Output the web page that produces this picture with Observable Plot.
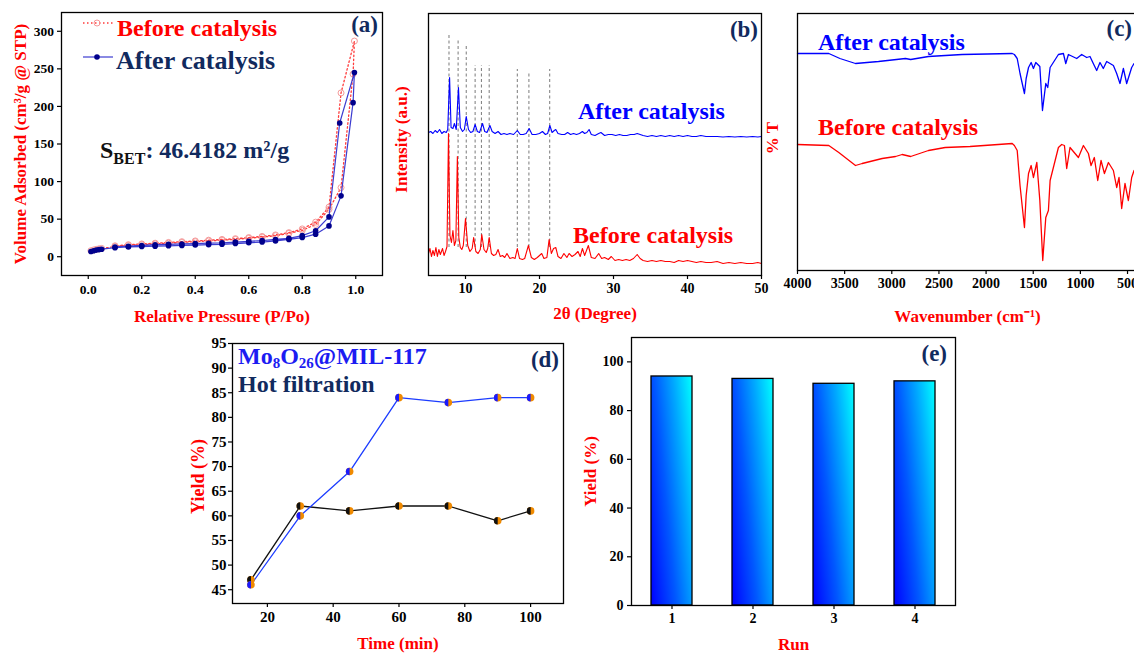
<!DOCTYPE html>
<html><head><meta charset="utf-8">
<script src="https://cdn.jsdelivr.net/npm/d3@7"></script>
<script src="https://cdn.jsdelivr.net/npm/@observablehq/plot@0.6"></script>
<style>
html,body{margin:0;padding:0;background:#fff;overflow:hidden;}
#fig{position:relative;width:1134px;height:654px;overflow:hidden;background:#fff;}
</style></head><body>
<svg width="0" height="0" style="position:absolute">
  <defs>
    <linearGradient id="barGrad" x1="0" y1="1" x2="1.19" y2="0.36">
      <stop offset="0" stop-color="#0000ff"/>
      <stop offset="0.4" stop-color="#0058ff"/>
      <stop offset="0.7" stop-color="#00a8ff"/>
      <stop offset="1" stop-color="#00ffff"/>
    </linearGradient>
  </defs>
</svg>
<div id="fig"></div>
<script>
// ---------- (a) N2 isotherm ----------
const aAfterP  = [0.01,0.02,0.03,0.04,0.05,0.1,0.15,0.2,0.25,0.3,0.35,0.4,0.45,0.5,0.55,0.6,0.65,0.7,0.75,0.8,0.85,0.9,0.945,0.99,0.995,
                  0.94,0.9,0.85,0.8,0.75,0.7,0.65,0.6,0.55,0.5,0.45,0.4,0.35,0.3,0.25,0.2,0.15,0.1];
const aAfterV  = [7,8,8.8,9.5,10,12,13,13.5,14,14.5,15,15.5,16,16.5,17.5,18.5,19.5,21,23,25.5,30,41,81,205,245,
                  178,53,34.5,28,24.5,23,21.5,20.5,19.5,18.5,18,17.5,17,16.5,16,15,14,13];
const aBeforeP = [0.01,0.02,0.03,0.04,0.05,0.1,0.15,0.2,0.25,0.3,0.35,0.4,0.45,0.5,0.55,0.6,0.65,0.7,0.75,0.8,0.85,0.9,0.945,0.99,0.995,
                  0.945,0.9,0.85,0.8,0.75,0.7,0.65,0.6,0.55,0.5,0.45,0.4,0.35,0.3,0.25,0.2,0.15,0.1];
const aBeforeV = [8,9,9.8,10.5,11,13.5,15,16,17,18,19,20,21,22,23,24.5,26,28,31,35,43,63,92,243,287,
                  218,66,46,37,32,29,27,25.5,24,23,22,21,20,19,18,17,16,14.5];
const aXTicks = [0,0.2,0.4,0.6,0.8,1.0];
const aYTicks = [0,50,100,150,200,250,300];

// ---------- (b) XRD (arbitrary intensity units) ----------
const bAfterT = [5.0,5.3,5.6,5.9,6.2,6.5,6.8,7.1,7.4,7.6,
  7.85,8.05,8.3,8.5,8.75,9.05,9.3,9.6,9.85,10.1,
  10.4,10.7,11.0,11.3,11.6,11.9,12.3,12.6,12.9,13.3,
  13.6,14.0,14.4,14.8,15.2,15.6,16.0,16.5,17.0,17.4,
  17.8,18.2,18.6,19.0,19.5,20.0,20.4,20.8,21.1,21.4,
  21.7,22.0,22.2,22.5,23.0,23.4,23.8,24.2,24.6,25.0,
  25.4,25.8,26.1,26.4,26.7,27.0,27.5,28.0,28.3,28.8,
  29.3,29.8,30.3,30.8,31.3,31.8,32.3,32.8,33.2,33.6,
  34.0,34.6,35.2,35.8,36.4,37.0,37.6,38.2,38.8,39.4,
  40.0,40.6,41.2,41.8,42.5,43.2,44.0,44.8,45.6,46.4,
  47.2,48.0,48.8,49.5,50.0];
const bAfterI = [143,144,142,145,143,146,142,144,143,146,
  198,148,147,152,146,188,148,144,146,159,
  146,143,144,151,144,143,152,144,143,150,
  144,142,144,141,142,141,142,141,145,141,
  141,142,147,141,141,142,144,141,142,150,
  143,145,146,142,141,141,143,141,142,141,
  142,144,142,143,146,141,140,142,143,140,
  141,141,140,141,140,140,141,141,142,141,
  140,139,140,139,140,139,140,139,140,139,
  140,139,139,140,139,139,139,138.5,139,138.5,
  139,138.5,139,138.5,139];
const bBeforeT = [5.0,5.2,5.4,5.6,5.8,6.0,6.2,6.4,6.6,6.9,
  7.1,7.3,7.5,7.7,7.9,8.1,8.3,8.5,8.7,8.9,
  9.1,9.3,9.5,9.7,10.0,10.3,10.6,10.9,11.1,11.4,
  11.7,12.0,12.2,12.5,12.8,13.0,13.2,13.5,13.8,14.1,
  14.4,14.7,15.0,15.3,15.6,16.0,16.4,16.7,17.0,17.3,
  17.7,18.0,18.5,18.9,19.3,19.7,20.0,20.3,20.6,21.0,
  21.3,21.6,21.9,22.2,22.5,22.9,23.3,23.7,24.0,24.4,
  24.8,25.2,25.5,25.8,26.1,26.6,27.0,27.5,28.0,28.4,
  28.8,29.3,29.7,30.2,30.7,31.2,31.7,32.2,32.7,33.2,
  33.6,34.0,34.6,35.2,35.8,36.4,37.0,37.6,38.2,38.8,
  39.4,40.0,40.6,41.2,41.8,42.5,43.2,44.0,44.8,45.6,
  46.4,47.2,48.0,48.8,49.5,50.0];
const bBeforeI = [22,27,19,25,20,28,19,26,21,27,
  20,24,29,142,40,33,45,30,35,119,
  38,28,26,30,57,30,24,27,38,24,
  22,26,41,26,23,27,38,22,20,21,
  26,19,20,18,22,17,18,17,27,17,
  16,17,30,18,16,18,20,22,17,18,
  36,22,27,28,19,17,22,18,22,19,
  21,24,19,27,20,30,18,17,22,17,
  18,16,19,15,16,15,16,15,17,21,
  17,15,14,15,14,15,14,14,13,15,
  14,15,14,13,14,13,13,14,12,13,
  12,13,12,12,13,12];
const bRefT   = [7.77,9.0,10.1,11.3,12.15,13.2,17.0,18.57,21.38];
const bRefTop = [242,237,229,210,210,210,206,202,206];
const bRefBot = [28,28,28,28,28,28,28,28,28];
const bXTicks = [10,20,30,40,50];

// ---------- (c) FT-IR (transmittance, arbitrary units) ----------
const cAfterW = [4000,3668,3550,3385,3141,2855,2800,2611,2254,1723,
  1700,1670,1640,1593,1575,1550,1522,1498,1473,1430,
  1402,1367,1346,1321,1233,1180,1155,1127,1039,986,
  933,898,863,827,792,757,721,650,615,580,
  544,509,456,431,400];
const cAfterT = [217,217,212,207,209,212,211,214,216,217,
  216,212,197,177,192,203,208,202,208,204,
  160,187,183,203,216,217,207,216,212,216,
  213,214,207,200,208,202,209,205,197,187,
  202,187,203,207,208];
const cBeforeW = [4000,3668,3562,3385,3314,3102,2960,2890,2800,2611,
  2434,2170,1723,1700,1670,1640,1593,1575,1550,1522,
  1498,1462,1430,1399,1367,1339,1321,1233,1198,1169,
  1145,1110,1021,968,915,887,852,816,781,745,
  703,650,615,590,562,527,491,456,431,400];
const cBeforeT = [126,125,118,105,107,112,114,116,114,120,
  123,124,127,125,120,85,43,75,97,105,
  93,108,70,10,53,60,90,123,126,125,
  102,123,113,125,117,105,113,90,110,97,
  108,100,83,93,62,87,70,93,100,102];
const cXTicks = [4000,3500,3000,2500,2000,1500,1000,500];

// ---------- (d) hot filtration ----------
const dTime   = [15,30,45,60,75,90,100];
const dNormal = [46,60,69,84,83,84,84];
const dHot    = [47,62,61,62,62,59,61];
const dXTicks = [20,40,60,80,100];
const dYTicks = [45,50,55,60,65,70,75,80,85,90,95];

// ---------- (e) recycling ----------
const eRun   = ["1","2","3","4"];
const eYield = [94,93,91,92];
const eYTicks = [0,20,40,60,80,100];

// ---------- helpers ----------
const RED = "#ff0000", NAVY = "#112a5e", BLUE = "#0000ff";
const FONT = '"Liberation Serif", "Times New Roman", serif';
const fig = document.getElementById("fig");
const zip2 = (xs, ys, kx, ky) => xs.map((x, i) => ({[kx]: x, [ky]: ys[i]}));
function mount(svg, left, top) {
  svg.style.position = "absolute"; svg.style.left = left + "px"; svg.style.top = top + "px";
  fig.appendChild(svg); return svg;
}
function baseStyle(size) {
  return {background: "transparent", overflow: "visible", fontFamily: FONT, fontWeight: "bold", fontSize: size + "px", color: "#000"};
}
function yTitle(text, dx, dy = 0, size = 17) {
  return Plot.text([text], {text: d => d, frameAnchor: "left", dx, dy, rotate: -90, textAnchor: "middle", lineAnchor: "middle", fill: RED, fontSize: size});
}
function xTitle(text, dy, dx = 0, anchor = "bottom", size = 17) {
  return Plot.text([text], {text: d => d, frameAnchor: anchor, dx, dy, textAnchor: "middle", lineAnchor: "middle", fill: RED, fontSize: size});
}
function label(svg, x, y, parts, {size = 24, fill = "#000", anchor = "start"} = {}) {
  const t = d3.select(svg).append("text").attr("x", x).attr("y", y)
    .attr("font-family", FONT).attr("font-weight", "bold").attr("font-size", size)
    .attr("fill", fill).attr("text-anchor", anchor);
  (typeof parts === "string" ? [{t: parts}] : parts).forEach(p => {
    const s = t.append("tspan").text(p.t);
    if (p.size) s.attr("font-size", p.size);
    if (p.fill) s.attr("fill", p.fill);
    if (p.dy) s.attr("dy", p.dy);
  });
  return t;
}

// ---------- panel (a) ----------
const aAfter = zip2(aAfterP, aAfterV, "p", "v");
const aBefore = zip2(aBeforeP, aBeforeV, "p", "v");
const svgA = mount(Plot.plot({
  width: 395, height: 330, marginLeft: 61, marginRight: 13, marginTop: 12, marginBottom: 55,
  style: baseStyle(13.5),
  x: {domain: [-0.1, 1.1]}, y: {domain: [-25, 325]},
  marks: [
    Plot.line(aBefore, {x: "p", y: "v", stroke: "#ff3b3b", strokeWidth: 1.3, strokeDasharray: "1.5,2.5"}),
    Plot.dot(aBefore, {x: "p", y: "v", r: 3, stroke: "#f59a9a", strokeWidth: 1, fill: "none"}),
    Plot.line(aAfter, {x: "p", y: "v", stroke: "#3c3cd0", strokeWidth: 1.2}),
    Plot.dot(aAfter, {x: "p", y: "v", r: 2.8, fill: "#00008c"}),
    Plot.axisX({ticks: aXTicks, tickFormat: d3.format(".1f"), tickSize: 4, tickPadding: 5, label: null, strokeWidth: 1.2}),
    Plot.axisY({ticks: aYTicks, tickSize: 4, tickPadding: 3.5, label: null, strokeWidth: 1.2}),
    Plot.frame({stroke: "#000", strokeWidth: 1.3}),
    yTitle("Volume Adsorbed (cm³/g @ STP)", -41),
    xTitle("Relative Pressure (P/Po)", 41)
  ]
}), 0, 0);
{
  const g = d3.select(svgA);
  g.append("line").attr("x1", 83).attr("x2", 113).attr("y1", 23).attr("y2", 23)
    .attr("stroke", "#ff3b3b").attr("stroke-width", 1.3).attr("stroke-dasharray", "1.5,2.5");
  g.append("circle").attr("cx", 97).attr("cy", 23).attr("r", 3).attr("fill", "none").attr("stroke", "#f59a9a");
  g.append("line").attr("x1", 83).attr("x2", 113).attr("y1", 57).attr("y2", 57)
    .attr("stroke", "#3c3cd0").attr("stroke-width", 1.2);
  g.append("circle").attr("cx", 97).attr("cy", 57).attr("r", 2.8).attr("fill", "#00008c");
  label(svgA, 117, 36, "Before catalysis", {size: 24, fill: RED});
  label(svgA, 116, 69, "After catalysis", {size: 26, fill: NAVY});
  label(svgA, 378, 32, "(a)", {size: 23, fill: NAVY, anchor: "end"});
  label(svgA, 100, 158, [
    {t: "S", fill: "#111"},
    {t: "BET", size: 16, dy: 6, fill: "#111"},
    {t: ": 46.4182 m²/g", dy: -6, fill: NAVY}
  ], {size: 24});
}

// ---------- panel (b) ----------
const bAfter = zip2(bAfterT, bAfterI, "t", "v");
const bBefore = zip2(bBeforeT, bBeforeI, "t", "v");
const bRef = bRefT.map((t, i) => ({t, top: bRefTop[i], bot: bRefBot[i]}));
const svgB = mount(Plot.plot({
  width: 375, height: 330, marginLeft: 33, marginRight: 9, marginTop: 13, marginBottom: 55,
  style: baseStyle(14),
  x: {domain: [5, 50]}, y: {domain: [0, 262], axis: null},
  marks: [
    Plot.ruleX(bRef, {x: "t", y1: "bot", y2: "top", stroke: "#7a7a7a", strokeWidth: 1, strokeDasharray: "3,2.5"}),
    Plot.line(bAfter, {x: "t", y: "v", stroke: BLUE, strokeWidth: 1.1}),
    Plot.line(bBefore, {x: "t", y: "v", stroke: RED, strokeWidth: 1.1}),
    Plot.axisX({ticks: bXTicks, tickSize: 4, tickPadding: 4, label: null, strokeWidth: 1.2}),
    Plot.frame({stroke: "#000", strokeWidth: 1.3}),
    yTitle("Intensity (a.u.)", -27, -5),
    xTitle("2θ (Degree)", 38)
  ]
}), 395, 0);
label(svgB, 183, 119, "After catalysis", {size: 24, fill: BLUE});
label(svgB, 178, 243, "Before catalysis", {size: 24, fill: RED});
label(svgB, 363, 37, "(b)", {size: 23, fill: NAVY, anchor: "end"});

// ---------- panel (c) ----------
const cAfter = zip2(cAfterW, cAfterT, "w", "v");
const cBefore = zip2(cBeforeW, cBeforeT, "w", "v");
const svgC = mount(Plot.plot({
  width: 400, height: 330, marginLeft: 37, marginRight: 9.4, marginTop: 13, marginBottom: 60,
  style: baseStyle(14),
  x: {domain: [4000, 250]}, y: {domain: [0, 257], axis: null},
  marks: [
    Plot.line(cAfter, {x: "w", y: "v", stroke: BLUE, strokeWidth: 1.3}),
    Plot.line(cBefore, {x: "w", y: "v", stroke: RED, strokeWidth: 1.3}),
    Plot.axisX({ticks: cXTicks, tickFormat: d3.format("d"), tickSize: 4, tickPadding: 4, label: null, strokeWidth: 1.2}),
    Plot.frame({stroke: "#000", strokeWidth: 1.3}),
    yTitle("% T", -25, -4),
    xTitle("Wavenumber (cm⁻¹)", 46, 170, "bottom-left")
  ]
}), 760, 0);
label(svgC, 58, 50, "After catalysis", {size: 24, fill: BLUE});
label(svgC, 58, 135, "Before catalysis", {size: 24, fill: RED});
label(svgC, 372, 36, "(c)", {size: 23, fill: NAVY, anchor: "end"});

// ---------- panel (d) ----------
const leftHalf = {draw(ctx, size) {
  const r = Math.sqrt(size / Math.PI);
  ctx.moveTo(0, -r); ctx.arc(0, 0, r, -Math.PI / 2, Math.PI / 2, true); ctx.closePath();
}};
const dN = zip2(dTime, dNormal, "t", "y");
const dH = zip2(dTime, dHot, "t", "y");
const svgD = mount(Plot.plot({
  width: 390, height: 324, marginLeft: 42, marginRight: 17, marginTop: 13, marginBottom: 51,
  style: baseStyle(15),
  x: {domain: [9.4, 110]}, y: {domain: [42.2, 95]},
  marks: [
    Plot.line(dH, {x: "t", y: "y", stroke: "#111", strokeWidth: 1.3}),
    Plot.line(dN, {x: "t", y: "y", stroke: "#1c3cff", strokeWidth: 1.3}),
    Plot.dot(dH, {x: "t", y: "y", r: 3.8, fill: "#f08a00"}),
    Plot.dot(dH, {x: "t", y: "y", r: 3.8, fill: "#111", symbol: leftHalf}),
    Plot.dot(dN, {x: "t", y: "y", r: 3.8, fill: "#f08a00"}),
    Plot.dot(dN, {x: "t", y: "y", r: 3.8, fill: "#1a1aff", symbol: leftHalf}),
    Plot.axisX({ticks: dXTicks, tickSize: 4, tickPadding: 4, label: null, strokeWidth: 1.2}),
    Plot.axisY({ticks: dYTicks, tickSize: 4, tickPadding: 2, label: null, strokeWidth: 1.2}),
    Plot.frame({stroke: "#000", strokeWidth: 1.3}),
    yTitle("Yield (%)", -34, 3, 18),
    xTitle("Time (min)", 40)
  ]
}), 190, 330);
label(svgD, 48, 34, [
  {t: "Mo"}, {t: "8", size: 15, dy: 4}, {t: "O", dy: -4}, {t: "26", size: 15, dy: 4}, {t: "@MIL-117", dy: -4}
], {size: 24, fill: "#1c1cf2"});
label(svgD, 48, 62, "Hot filtration", {size: 24, fill: NAVY});
label(svgD, 369, 37, "(d)", {size: 23, fill: NAVY, anchor: "end"});

// ---------- panel (e) ----------
const eData = eRun.map((run, i) => ({run, yield: eYield[i]}));
const svgE = mount(Plot.plot({
  width: 400, height: 324, marginLeft: 51, marginRight: 25, marginTop: 7, marginBottom: 49,
  style: baseStyle(14),
  x: {type: "band", domain: eRun, paddingInner: 0.5, paddingOuter: 0.25}, y: {domain: [0, 110]},
  marks: [
    Plot.barY(eData, {x: "run", y: "yield", fill: "url(#barGrad)", stroke: "#000", strokeWidth: 1.3}),
    Plot.axisX({tickSize: 4, tickPadding: 4, label: null, strokeWidth: 1.2}),
    Plot.axisY({ticks: eYTicks, tickSize: 4, tickPadding: 4, label: null, strokeWidth: 1.2}),
    Plot.frame({stroke: "#000", strokeWidth: 1.3}),
    yTitle("Yield (%)", -41),
    xTitle("Run", 39)
  ]
}), 580, 330);
label(svgE, 367, 31, "(e)", {size: 23, fill: NAVY, anchor: "end"});
</script>
</body></html>
